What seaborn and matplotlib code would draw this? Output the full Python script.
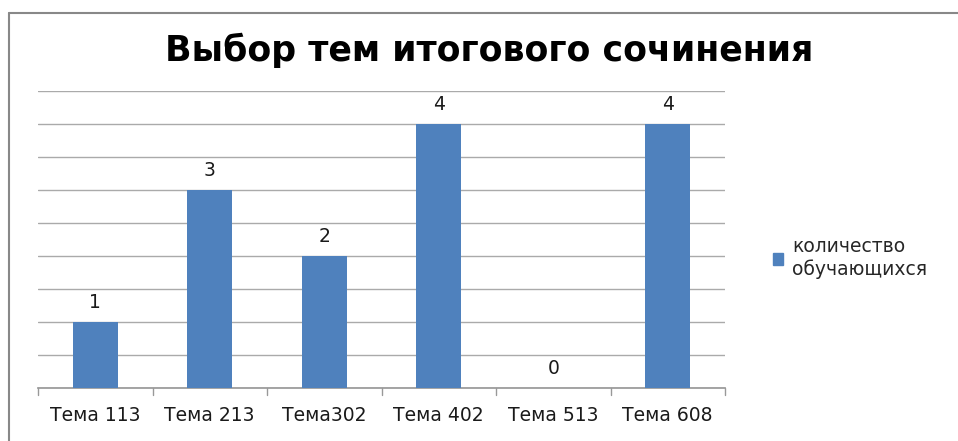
import matplotlib
matplotlib.use("Agg")
import matplotlib.pyplot as plt
import seaborn as sns
import pandas as pd
from matplotlib.lines import Line2D
from matplotlib.patches import Patch

categories = ["Тема 113", "Тема 213", "Тема302", "Тема 402", "Тема 513", "Тема 608"]
values = [1, 3, 2, 4, 0, 4]
series_name = "количество обучающихся"

sns.set_theme(style="white")
plt.rcParams['font.family'] = ['DejaVu Sans']

df = pd.DataFrame({"cat": categories, "val": values})

W, H = 958, 441
fig = plt.figure(figsize=(W / 100, H / 100), dpi=100)
ax = fig.add_axes([38 / W, 53 / H, (725 - 38) / W, (388 - 91) / H])

color = "#4F81BD"
sns.barplot(data=df, x="cat", y="val", color=color, width=0.39, ax=ax,
            saturation=1, zorder=3, linewidth=0)

ax.set_ylim(0, 4.5)
ax.set_xlim(-0.5, len(categories) - 0.5)
ax.set_yticks([i * 0.5 for i in range(10)])
ax.yaxis.grid(True, color="#AAAAAA", linewidth=1)
ax.set_yticklabels([])
ax.tick_params(axis="y", length=0)
for s in ["top", "right", "left"]:
    ax.spines[s].set_visible(False)
ax.spines["bottom"].set_color("#999999")
ax.set_xlabel("")
ax.set_ylabel("")
ax.set_xticks(range(len(categories)))
ax.set_xticklabels(categories, fontsize=13.5, color="#1a1a1a")
ax.tick_params(axis="x", length=0, pad=13)

# category boundary ticks below axis
for b in range(len(categories) + 1):
    ax.plot([b - 0.5, b - 0.5], [0, -0.1], color="#999999", lw=1,
            clip_on=False, zorder=4)

for i, v in enumerate(values):
    ax.text(i, v + 0.3, str(v), ha="center", va="center", fontsize=13.5,
            color="#1a1a1a")

fig.text(489 / W, 1 - 50 / H, "Выбор тем итогового сочинения", ha="center",
         va="center", fontsize=25, fontweight="bold", color="black")

leg_handle = Patch(facecolor=color, edgecolor=color)
fig.legend([leg_handle], ["количество\nобучающихся"], loc="center left",
           bbox_to_anchor=(765 / W, 1 - 258 / H), frameon=False,
           fontsize=13.5, handlelength=0.55, handleheight=0.55,
           handletextpad=0.5, borderaxespad=0, labelspacing=0.2)

# outer frame (top and left visible)
fig.add_artist(Line2D([9 / W, 1], [1 - 13 / H, 1 - 13 / H], color="#888888",
                      lw=1.5, transform=fig.transFigure))
fig.add_artist(Line2D([9 / W, 9 / W], [0, 1 - 13 / H], color="#888888",
                      lw=1.5, transform=fig.transFigure))

fig.savefig("out.png", dpi=100)
